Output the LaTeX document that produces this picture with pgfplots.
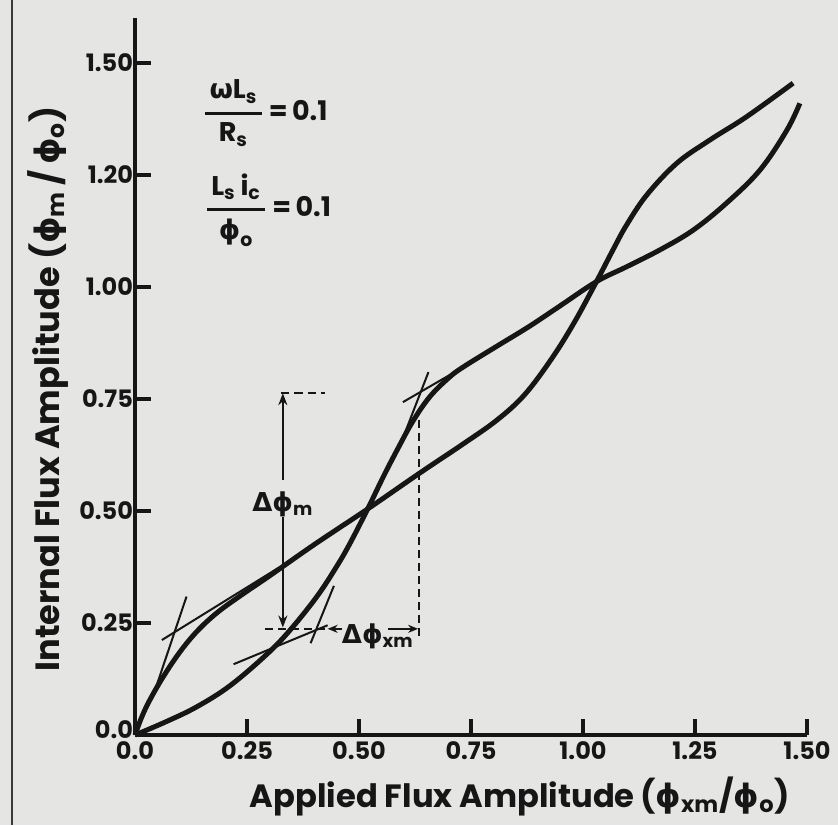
\documentclass[border=0pt]{standalone}
\usepackage{pgfplots}
\pgfplotsset{compat=1.18}
\usepackage{pgfplotstable}
\usepackage{amsmath}
\usepackage{fontspec}
\setmainfont{Poppins}
\newfontfamily\gr{DejaVu Sans}
\usetikzlibrary{arrows.meta}
\definecolor{paper}{RGB}{229,229,227}
\definecolor{ink}{RGB}{22,22,22}
\newcommand\ph{{\gr ϕ}}

% curve that is steep near 0 and 1
\pgfplotstableread{
x y
0 0
0.015 0.040
0.033 0.078
0.063 0.130
0.100 0.185
0.138 0.231
0.182 0.272
0.234 0.310
0.300 0.355
0.400 0.425
0.520 0.505
0.636 0.585
0.730 0.648
0.808 0.703
0.870 0.760
0.930 0.840
0.980 0.920
1.030 1.012
1.068 1.085
1.097 1.138
1.142 1.205
1.209 1.276
1.283 1.328
1.365 1.380
1.469 1.455
}\curveL

% curve that is steep near 0.5
\pgfplotstableread{
x y
0 0
0.070 0.030
0.138 0.063
0.212 0.110
0.294 0.180
0.346 0.234
0.406 0.309
0.450 0.376
0.480 0.428
0.521 0.508
0.554 0.576
0.585 0.636
0.620 0.700
0.658 0.755
0.700 0.797
0.732 0.821
0.808 0.868
0.880 0.912
0.949 0.958
1.030 1.012
1.097 1.045
1.172 1.083
1.246 1.127
1.320 1.187
1.395 1.261
1.455 1.350
1.484 1.410
}\curveS

\begin{document}
\begin{tikzpicture}
\fill[paper] (-67.5pt,-45pt) rectangle (351.5pt,367.5pt);
\begin{axis}[
    at={(0pt,0pt)}, anchor=origin,
    x=224pt, y=224pt,
    xmin=0, xmax=1.5, ymin=0, ymax=1.6,
    axis lines=left,
    axis line style={-, line width=2pt, ink},
    tick align=inside,
    major tick length=8pt,
    tick style={line width=2pt, ink},
    xtick={0,0.25,0.5,0.75,1,1.25,1.5},
    xticklabels={0.0,0.25,0.50,0.75,1.00,1.25,1.50},
    ytick={0,0.25,0.5,0.75,1,1.25,1.5},
    yticklabels={\raisebox{5pt}{0.0},0.25,0.50,0.75,1.00,1.20,1.50},
    tick label style={font=\bfseries\fontsize{12}{13}\selectfont, text=ink},
    yticklabel style={xshift=2.5pt},
    xlabel={Applied Flux Amplitude\,(\ph\textsubscript{xm}/\ph\textsubscript{o})},
    ylabel={Internal Flux Amplitude (\ph\textsubscript{m}\,/\,\ph\textsubscript{o})},
    xlabel style={at={(axis description cs:0.573,-0.086)}, anchor=center,
      font=\bfseries\fontsize{16.1}{18}\selectfont, text=ink},
    ylabel style={at={(axis description cs:-0.129,0.483)}, anchor=center,
      font=\bfseries\fontsize{16.8}{18}\selectfont, text=ink},
    clip=false,
]
\addplot[ink, line width=2.5pt, smooth, tension=0.6] table {\curveL};
\addplot[ink, line width=2.5pt, smooth, tension=0.6] table {\curveS};

% tangent construction lines
\draw[ink, line width=1pt] (axis cs:0.060,0.212) -- (axis cs:0.320,0.373);
\draw[ink, line width=1pt] (axis cs:0.038,0.080) -- (axis cs:0.115,0.309);
\draw[ink, line width=1pt] (axis cs:0.220,0.158) -- (axis cs:0.430,0.245);
\draw[ink, line width=1pt] (axis cs:0.392,0.205) -- (axis cs:0.444,0.333);
\draw[ink, line width=1pt] (axis cs:0.598,0.743) -- (axis cs:0.748,0.830);
\draw[ink, line width=1pt] (axis cs:0.600,0.668) -- (axis cs:0.655,0.810);

% delta phi_m
\draw[ink, line width=1.2pt, dash pattern=on 4pt off 2.5pt] (axis cs:0.327,0.763) -- (axis cs:0.424,0.763);
\draw[ink, line width=1.2pt, -{Stealth[length=6pt,width=4.5pt]}] (axis cs:0.330,0.570) -- (axis cs:0.330,0.763);
\draw[ink, line width=1.2pt, -{Stealth[length=6pt,width=4.5pt]}] (axis cs:0.330,0.487) -- (axis cs:0.330,0.240);
\node[font=\bfseries\fontsize{13}{15}\selectfont, text=ink] at (axis cs:0.330,0.515) {{\gr Δ}\ph\textsubscript{m}};

% delta phi_xm
\draw[ink, line width=1.2pt, dash pattern=on 4pt off 2.5pt] (axis cs:0.290,0.237) -- (axis cs:0.432,0.237);
\draw[ink, line width=1.2pt, -{Stealth[length=5pt,width=4pt]}] (axis cs:0.463,0.237) -- (axis cs:0.430,0.237);
\draw[ink, line width=1.2pt, -{Stealth[length=5pt,width=4pt]}] (axis cs:0.565,0.237) -- (axis cs:0.632,0.237);
\draw[ink, line width=1.2pt, dash pattern=on 4pt off 2.5pt] (axis cs:0.634,0.222) -- (axis cs:0.634,0.715);
\node[font=\bfseries\fontsize{13}{15}\selectfont, text=ink] at (axis cs:0.542,0.220) {{\gr Δ}\ph\textsubscript{xm}};

% parameters
\node[anchor=west, inner sep=0pt, font=\bfseries\fontsize{13.5}{15}\selectfont, text=ink] at (axis cs:0.150,1.388)
  {$\genfrac{}{}{1.4pt}{0}{\text{\,{\gr ω}L}_{\text{s}}\text{\,}}{\text{R}_{\text{s}}}\text{\,=\,0.1}$};
\node[anchor=west, inner sep=0pt, font=\bfseries\fontsize{13.5}{15}\selectfont, text=ink] at (axis cs:0.154,1.172)
  {$\genfrac{}{}{1.4pt}{0}{\text{\,L}_{\text{s}}\,\text{i}_{\text{c}}\text{\,}}{\text{\ph}_{\text{o}}}\text{\,=\,0.1}$};

% page margin line of the scan
\draw[ink!85, line width=1.2pt] (axis cs:-0.2746,-0.2009) -- (axis cs:-0.2746,1.6406);
\end{axis}
\pgfresetboundingbox
\path[use as bounding box] (-67.5pt,-45pt) rectangle (351.5pt,367.5pt);
\end{tikzpicture}
\end{document}
